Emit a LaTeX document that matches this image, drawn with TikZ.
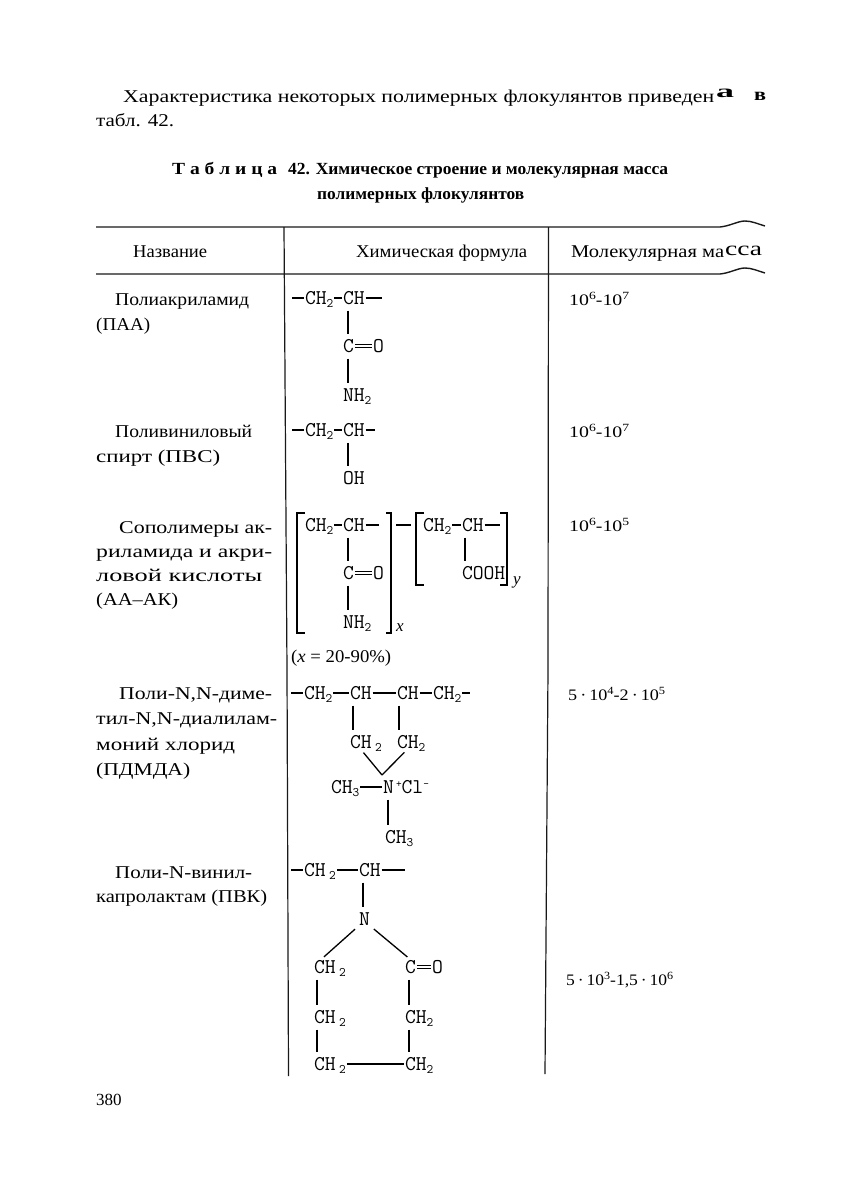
\documentclass[tikz,border=0pt]{standalone}
\usepackage{graphicx}
\usepackage{fontspec}
\setmainfont{Liberation Serif}
\newcommand\W[2]{\resizebox{#1pt}{\height}{#2}}
\newcommand\Sb[1]{\raisebox{-3pt}{\fontsize{13}{13}\selectfont #1}}
\newcommand\Sp[1]{\raisebox{6pt}{\fontsize{11}{11}\selectfont #1}}
\newcommand\VB[3]{\draw[vb] (#1.south -| #3,0) -- (#2.north -| #3,0);}
\newcommand\DB[2]{\draw[bond] ([yshift=-1.7pt]#1.east) -- ([yshift=-1.7pt]#2.west); \draw[bond] ([yshift=1.7pt]#1.east) -- ([yshift=1.7pt]#2.west);}
\tikzset{
 txt/.style={anchor=base west,inner sep=0pt,font=\fontsize{18}{18}\selectfont},
 num/.style={txt,font=\fontsize{16}{16}\selectfont},
 captxt/.style={anchor=base west,inner sep=0pt,font=\fontsize{17}{17}\selectfont\bfseries},
 chem/.style={anchor=west,inner sep=0pt,outer sep=1pt,text height=13pt,text depth=0pt,font=\fontsize{21}{21}\selectfont\ttfamily\addfontfeature{FakeBold=0.5}},
 hrl/.style={line width=1.4pt,black!90},
 vrl/.style={line width=1.2pt,black!90},
 bond/.style={line width=1.3pt,black},
 vb/.style={bond,shorten >=5pt,shorten <=5pt},
 brk/.style={line width=1.3pt,black},
}
\begin{document}
\begin{tikzpicture}[x=1pt,y=-1pt]
\useasboundingbox[fill=white] (0,0) rectangle (844,1189);
% running text
\node[txt] (p1) at (123,102) {\W{591}{Характеристика некоторых полимерных флокулянтов приведен}};
\node[txt] (p1a) at (716,97) {\W{18}{\bfseries а}};
\node[txt] (p1b) at (754,100) {\W{12}{\bfseries в}};
\node[txt] (p2) at (96,126) {\W{78}{табл. 42.}};
% caption
\node[captxt] (c1a) at (172,174) {\W{105}{Т а б л и ц а}};
\node[captxt] (c1b) at (288,174) {\W{380}{42. Химическое строение и молекулярная масса}};
\node[captxt] (c2) at (317,199) {\W{207}{полимерных флокулянтов}};
% rules
\draw[hrl] (96,227) -- (720,227) .. controls (730,226) and (738,221) .. (745,221) .. controls (752,221) and (758,224) .. (765,226);
\draw[hrl] (96,274) -- (720,274) .. controls (730,273) and (738,268) .. (745,268) .. controls (752,268) and (758,271) .. (765,273);
\draw[vrl] (284,227) -- (287,670) -- (288.5,1076);
\draw[vrl] (548.5,227) -- (548,670) -- (545,1074);
% header
\node[txt] (h1) at (133,257) {\W{74}{Название}};
\node[txt] (h2) at (356,257) {\W{171}{Химическая формула}};
\node[txt] (h3) at (571,257) {\W{153}{Молекулярная ма}};
\node[txt,font=\fontsize{20}{20}\selectfont] (h3a) at (725,255) {\W{37}{сса}};
% names
\node[txt] (n1) at (115,305) {\W{134}{Полиакриламид}};
\node[txt] (n2) at (96,330) {\W{54}{(ПАА)}};
\node[txt] (n3) at (115,437) {\W{137}{Поливиниловый}};
\node[txt] (n4) at (96,462) {\W{124}{спирт (ПВС)}};
\node[txt] (n5) at (119,533) {\W{153}{Сополимеры ак-}};
\node[txt] (n6) at (96,557) {\W{176}{риламида и акри-}};
\node[txt] (n7) at (96,581) {\W{166}{ловой кислоты}};
\node[txt] (n8) at (96,605) {\W{82}{(АА–АК)}};
\node[txt] (n9) at (119,699) {\W{153}{Поли-N,N-диме-}};
\node[txt] (n10) at (96,724) {\W{181}{тил-N,N-диалилам-}};
\node[txt] (n11) at (96,750) {\W{139}{моний хлорид}};
\node[txt] (n12) at (96,775) {\W{94}{(ПДМДА)}};
\node[txt] (n13) at (115,878) {\W{137}{Поли-N-винил-}};
\node[txt] (n14) at (96,902) {\W{171}{капролактам (ПВК)}};
% masses
\node[num] (m1) at (569,305) {\W{60}{10\Sp{6}-10\Sp{7}}};
\node[num] (m2) at (569,437) {\W{60}{10\Sp{6}-10\Sp{7}}};
\node[num] (m3) at (569,531) {\W{60}{10\Sp{6}-10\Sp{5}}};
\node[num] (m4) at (568,700) {\W{97}{5\,·\,10\Sp{4}-2\,·\,10\Sp{5}}};
\node[num] (m5) at (566,985) {\W{107}{5\,·\,10\Sp{3}-1,5\,·\,10\Sp{6}}};
\node[txt,font=\fontsize{17}{17}\selectfont] (pg) at (96,1105) {380};
% formula 1
\coordinate (a0) at (292,298); \coordinate (a3) at (382,298);
\node[chem] (a1) at (304,298) {CH\Sb{2}};
\node[chem] (a2) at (342,298) {CH};
\node[chem] (a4) at (342,346) {C};
\node[chem] (a5) at (372,346) {O};
\node[chem] (a6) at (342,395) {NH\Sb{2}};
\draw[bond] (a0) -- (a1.west);
\draw[bond] (a1.east) -- (a2.west);
\draw[bond] (a2.east) -- (a3);
\VB{a2}{a4}{348}
\VB{a4}{a6}{348}
\DB{a4}{a5}
% formula 2
\coordinate (b0) at (292,430); \coordinate (b3) at (375,430);
\node[chem] (b1) at (304,430) {CH\Sb{2}};
\node[chem] (b2) at (342,430) {CH};
\node[chem] (b4) at (342,478) {OH};
\draw[bond] (b0) -- (b1.west);
\draw[bond] (b1.east) -- (b2.west);
\draw[bond] (b2.east) -- (b3);
\VB{b2}{b4}{348}
% formula 3
\coordinate (d3) at (379,525);
\coordinate (d7) at (500,525);
\node[chem] (d1) at (304,525) {CH\Sb{2}};
\node[chem] (d2) at (342,525) {CH};
\node[chem] (d4) at (342,573) {C};
\node[chem] (d5) at (372,573) {O};
\node[chem] (d6) at (342,622) {NH\Sb{2}};
\node[chem] (d8) at (422,525) {CH\Sb{2}};
\node[chem] (d9) at (461,525) {CH};
\node[chem] (d10) at (461,573) {COOH};
\draw[bond] (d1.east) -- (d2.west);
\draw[bond] (d2.east) -- (d3);
\VB{d2}{d4}{348}
\VB{d4}{d6}{348}
\DB{d4}{d5}
\draw[bond] (d8.east) -- (d9.west);
\draw[bond] (d9.east) -- (d7);
\VB{d9}{d10}{465}
\draw[brk] (305,513) -- (297,513) -- (297,633) -- (305,633);
\draw[brk] (386,513) -- (391,513) -- (391,633) -- (386,633);
\draw[bond] (396,525) -- (411,525);
\draw[brk] (424,513) -- (416,513) -- (416,585) -- (424,585);
\draw[brk] (500,513) -- (507,513) -- (507,585) -- (500,585);
\node[txt,font=\fontsize{17}{17}\selectfont\itshape] (dx) at (396,631) {x};
\node[txt,font=\fontsize{17}{17}\selectfont\itshape] (dy) at (513,584) {y};
\node[txt,font=\fontsize{18}{18}\selectfont] (dn) at (291,662) {\W{100}{(\textit{x} = 20-90\%)}};
% formula 4
\coordinate (e0) at (291,693); \coordinate (e9) at (470,693);
\node[chem] (e1) at (303,693) {CH\Sb{2}};
\node[chem] (e2) at (349,693) {CH};
\node[chem] (e3) at (396,693) {CH};
\node[chem] (e4) at (432,693) {CH\Sb{2}};
\node[chem] (e5) at (349,742) {CH\,\Sb{2}};
\node[chem] (e6) at (396,742) {CH\Sb{2}};
\node[chem] (e7) at (330,787) {CH\Sb{3}};
\node[chem] (e8) at (382,787) {N};
\node[chem] (e10) at (395,787) {\Sp{+}Cl\Sp{-}};
\node[chem] (e11) at (384,837) {CH\Sb{3}};
\coordinate (ev) at (382,775);
\draw[bond] (e0) -- (e1.west);
\draw[bond] (e1.east) -- (e2.west);
\draw[bond] (e2.east) -- (e3.west);
\draw[bond] (e3.east) -- (e4.west);
\draw[bond] (e4.east) -- (e9);
\VB{e2}{e5}{353}
\VB{e3}{e6}{399}
\draw[bond,shorten <=4pt] ([xshift=-5pt]e5.south) -- (ev);
\draw[bond,shorten <=4pt] ([xshift=-4pt]e6.south) -- (ev);
\draw[bond] (e7.east) -- (e8.west);
\VB{e8}{e11}{388}
% formula 5
\coordinate (f0) at (291,870); \coordinate (f3) at (405,870);
\node[chem] (f1) at (303,870) {CH\,\Sb{2}};
\node[chem] (f2) at (358,870) {CH};
\node[chem] (f4) at (358,919) {N};
\node[chem] (f5) at (313,967) {CH\,\Sb{2}};
\node[chem] (f6) at (404,967) {C};
\node[chem] (f7) at (431,967) {O};
\node[chem] (f8) at (313,1017) {CH\,\Sb{2}};
\node[chem] (f9) at (404,1017) {CH\Sb{2}};
\node[chem] (f10) at (313,1064) {CH\,\Sb{2}};
\node[chem] (f11) at (404,1064) {CH\Sb{2}};
\draw[bond] (f0) -- (f1.west);
\draw[bond] (f1.east) -- (f2.west);
\draw[bond] (f2.east) -- (f3);
\VB{f2}{f4}{363}
\draw[bond,shorten >=4pt,shorten <=4pt] (f4.south west) -- (f5.north -| 321,0);
\draw[bond,shorten >=4pt,shorten <=4pt] (f4.south east) -- (f6.north);
\DB{f6}{f7}
\VB{f5}{f8}{317}
\VB{f6}{f9}{409}
\VB{f8}{f10}{317}
\VB{f9}{f11}{409}
\draw[bond] (f10.east) -- (f11.west);
\end{tikzpicture}
\end{document}
